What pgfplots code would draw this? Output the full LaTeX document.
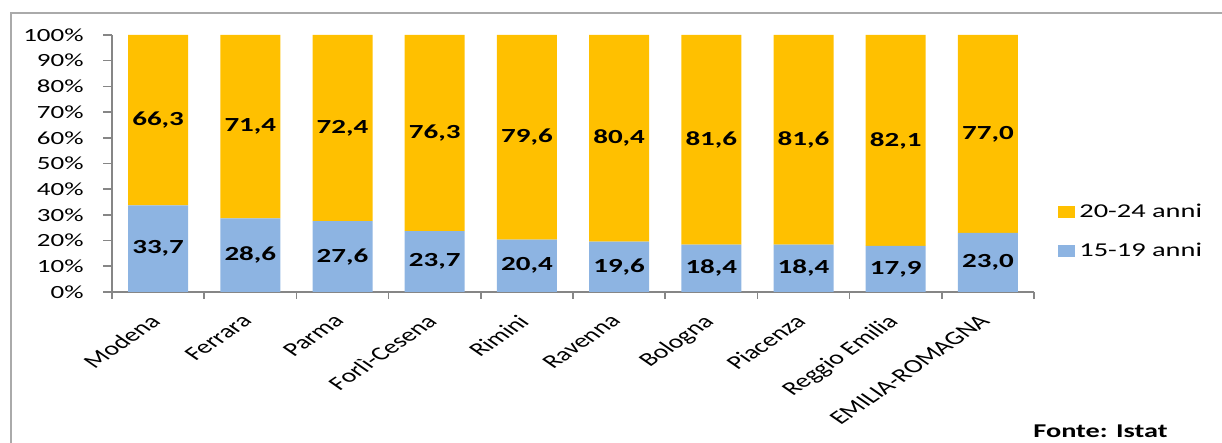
\documentclass[border=0pt]{standalone}
\usepackage{fontspec}
\setmainfont{Carlito}[FakeStretch=1.45]
\newfontfamily\plainfont{Carlito}
\usepackage{pgfplots}
\pgfplotsset{compat=1.18}
\definecolor{cblue}{RGB}{141,180,226}
\definecolor{corange}{RGB}{255,192,0}
\definecolor{axgray}{RGB}{134,134,134}
\definecolor{framegray}{RGB}{170,170,170}
\begin{document}
\begin{tikzpicture}
\path[use as bounding box] (0,0) rectangle (611pt,221.5pt);
\draw[framegray, line width=1pt] (5.5pt,-2pt) -- (5.5pt,215pt) -- (614pt,215pt);
\begin{axis}[
  at={(56pt,75.5pt)}, anchor=south west,
  scale only axis, width=461pt, height=128.5pt,
  ybar stacked, bar width=30pt,
  xmin=-0.5, xmax=9.5, ymin=0, ymax=100,
  enlargelimits=false,
  axis lines*=left,
  axis line style={axgray, line width=0.8pt, -},
  tick align=outside,
  major tick length=4.5pt, minor tick length=3.5pt,
  xtick={0,...,9},
  xticklabels={Modena,Ferrara,Parma,Forlì-Cesena,Rimini,Ravenna,Bologna,Piacenza,Reggio Emilia,EMILIA-ROMAGNA},
  minor xtick={-0.5,0.5,...,9.5},
  major x tick style={draw=none},
  minor x tick style={draw=axgray, line width=0.8pt},
  ytick={0,10,...,100},
  yticklabels={0\%,10\%,20\%,30\%,40\%,50\%,60\%,70\%,80\%,90\%,100\%},
  major y tick style={draw=axgray, line width=0.8pt},
  y tick label style={font=\fontsize{9.3}{11}\selectfont, inner sep=1pt, xshift=-8.5pt},
  x tick label style={font=\plainfont\fontsize{9.6}{12}\selectfont, xshift=-5pt, yshift=-6pt, xscale=1.45, rotate=45, anchor=north east, inner sep=0pt},
  nodes near coords={\pgfmathprintnumber[fixed,fixed zerofill,precision=1,use comma,assume math mode=true]{\pgfplotspointmeta}},
  every node near coord/.append style={font=\bfseries\fontsize{10}{11}\selectfont, anchor=center},
  legend style={at={(1.026,0.235)}, anchor=west, draw=none, fill=none, font=\fontsize{9.8}{12}\selectfont, row sep=7pt, inner sep=0pt},
  legend cell align=left,
  reverse legend,
  legend image code/.code={\fill[#1] (0pt,-3pt) rectangle (8.5pt,3pt);},
]
\addplot[fill=cblue, draw=none] coordinates {(0,33.7) (1,28.6) (2,27.6) (3,23.7) (4,20.4) (5,19.6) (6,18.4) (7,18.4) (8,17.9) (9,23.0)};
\addlegendentry{15-19 anni}
\addplot[fill=corange, draw=none] coordinates {(0,66.3) (1,71.4) (2,72.4) (3,76.3) (4,79.6) (5,80.4) (6,81.6) (7,81.6) (8,82.1) (9,77.0)};
\addlegendentry{20-24 anni}
\end{axis}
\node[anchor=base west, inner sep=0pt] at (516.5pt,2.5pt) {\bfseries\fontsize{9.75}{12}\selectfont Fonte: Istat};
\end{tikzpicture}
\end{document}
